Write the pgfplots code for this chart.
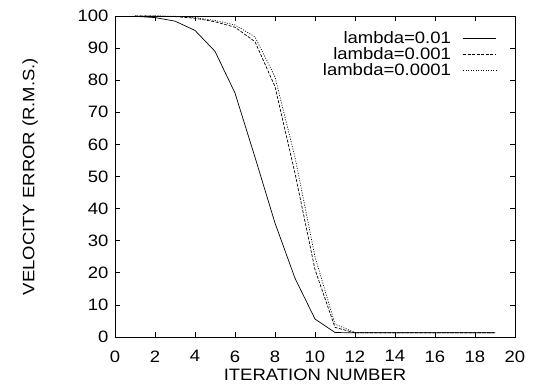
\documentclass[border=0pt]{standalone}
\usepackage{fontspec}
\setmainfont[FakeStretch=1.12]{Liberation Sans}
\usepackage{pgfplots}
\pgfplotsset{compat=1.18}
\begin{document}
\begin{tikzpicture}[font=\fontsize{16.5}{19}\selectfont]
\begin{axis}[
  at={(0pt,0pt)}, anchor=south west,
  scale only axis, width=400pt, height=321pt,
  xmin=0, xmax=20, ymin=0, ymax=100,
  xtick={0,2,...,20}, ytick={0,10,...,100},
  tick pos=both, tick align=inside, major tick length=5pt,
  axis line style={line width=0.8pt}, tick style={line width=0.6pt, black},
  /pgf/number format/assume math mode=true,
  xticklabel style={yshift=-10pt},
  yticklabel style={xshift=-3pt},
  xlabel={ITERATION NUMBER}, ylabel={VELOCITY ERROR (R.M.S.)},
  xlabel style={yshift=0pt},
  ylabel style={yshift=33pt},
  legend style={draw=none, fill=none, at={(rel axis cs:0.962,0.965)}, anchor=north east,
    row sep=-1.5pt, column sep=10pt, font=\fontsize{16.5}{19}\selectfont},
  legend cell align=right, legend plot pos=right,
  legend image code/.code={\draw[#1] (0pt,0pt) -- (33pt,0pt);},
]
\addplot[black, line width=0.7pt] coordinates {
(1,99.9) (2,99.5) (3,98.4) (4,95.5) (5,89) (6,76) (7,56) (8,35.5) (9,18.3) (10,5.6)
(11,1.4) (12,1.3) (13,1.3) (14,1.3) (15,1.3) (16,1.3) (17,1.3) (18,1.3) (19,1.3)};
\addlegendentry{lambda=0.01}
\addplot[black, line width=0.7pt, dash pattern=on 3pt off 1.5pt] coordinates {
(1,100) (2,100) (3,99.8) (4,99.3) (5,98.2) (6,96.5) (7,92) (8,78) (9,51) (10,21)
(11,3) (12,1.3) (13,1.3) (14,1.3) (15,1.3) (16,1.3) (17,1.3) (18,1.3) (19,1.3)};
\addlegendentry{lambda=0.001}
\addplot[black, line width=0.7pt, dash pattern=on 1pt off 1.5pt] coordinates {
(1,100) (2,100) (3,99.9) (4,99.5) (5,98.6) (6,97.2) (7,93.5) (8,81) (9,56) (10,25)
(11,4) (12,1.4) (13,1.3) (14,1.3) (15,1.3) (16,1.3) (17,1.3) (18,1.3) (19,1.3)};
\addlegendentry{lambda=0.0001}
\end{axis}
\useasboundingbox (-115pt,-50pt) rectangle (424pt,337pt);
\end{tikzpicture}
\end{document}
